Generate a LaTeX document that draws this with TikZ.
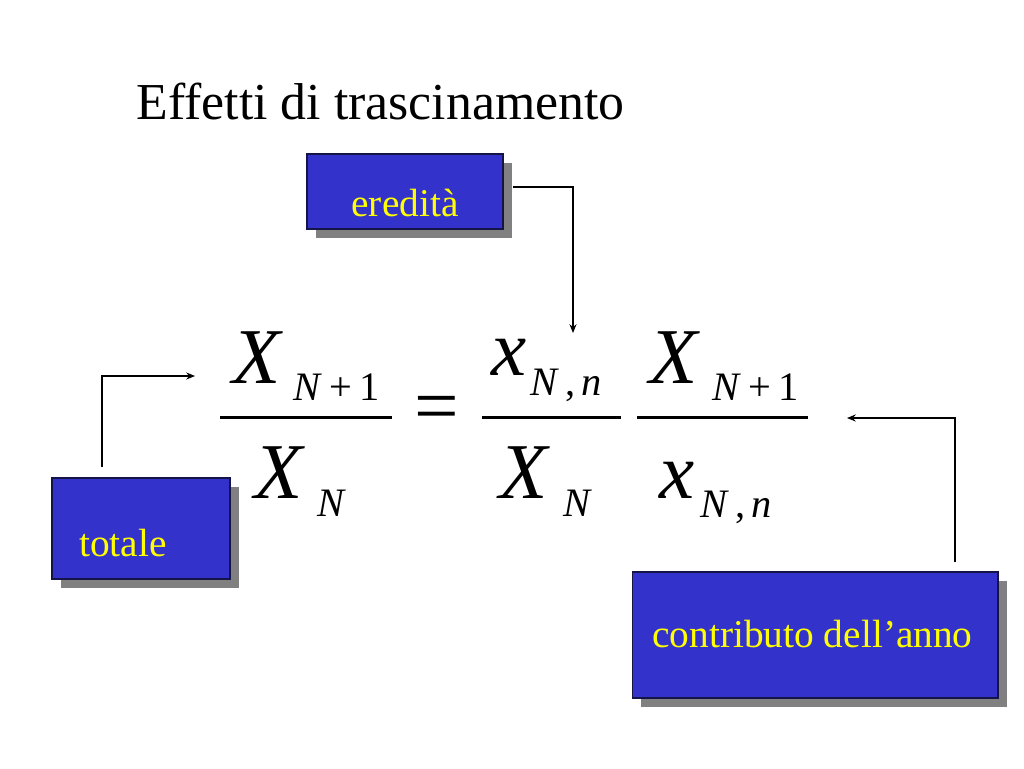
\documentclass[tikz,border=0pt]{standalone}
\usepackage{fontspec}
\setmainfont{Liberation Serif}
\usetikzlibrary{shadows,arrows.meta}
\definecolor{boxblue}{RGB}{51,51,204}
\definecolor{boxedge}{RGB}{20,20,70}
\definecolor{shadowgray}{RGB}{128,128,128}
\definecolor{labelyellow}{RGB}{255,255,0}

\begin{document}
\begin{tikzpicture}[x=0.02cm,y=-0.02cm,
    box/.style={draw=boxedge, fill=boxblue, line width=0.6pt, inner sep=0pt,
      general shadow={fill=shadowgray, shadow xshift=0.18cm, shadow yshift=-0.18cm}},
    lbl/.style={text=labelyellow, font=\fontsize{22.4}{26}\selectfont, inner sep=0pt},
    big/.style={font=\fontsize{45}{50}\selectfont\itshape, inner sep=0pt, anchor=base west},
    small/.style={font=\fontsize{23}{27}\selectfont\itshape, inner sep=0pt, anchor=base west},
    bar/.style={line width=1.7pt},
    conn/.style={line width=0.6pt, -{Stealth[length=5pt,width=4pt]}}]
  \path[fill=white, use as bounding box] (0,0) rectangle (1024,768);

  % title
  \node[font=\fontsize{29.5}{34}\selectfont, inner sep=0pt, anchor=base west] (title) at (136,119) {Effetti di trascinamento};

  % boxes
  \node[box, minimum width=3.92cm, minimum height=1.5cm] (ered) at (405,191.5) {};
  \node[lbl, anchor=base] (eredtxt) at (405,216) {eredità};
  \node[box, minimum width=3.56cm, minimum height=2.02cm] (tot) at (141,528.5) {};
  \node[lbl, anchor=base west] (tottxt) at (79,556) {totale};
  \node[box, minimum width=7.32cm, minimum height=2.52cm] (contr) at (815,635) {};
  \node[lbl, anchor=base west] (contrtxt) at (652,647) {contributo dell’anno};

  % equation
  \node[big] (n1X) at (232,383) {X};
  \node[small] (n1s) at (293,400) {N\hspace{5.5pt}{\upshape +\hspace{4pt}1}};
  \node[big] (d1X) at (254,498) {X};
  \node[small] (d1s) at (317,516) {N};
  \node[font=\fontsize{45}{50}\selectfont, inner sep=0pt] (eq) at (437,414) {=};
  \node[big] (n2x) at (491,375) {x};
  \node[small] (n2s) at (530,395) {N\hspace{4.5pt}{\upshape ,}\hspace{3.5pt}n};
  \node[big] (d2X) at (499,498) {X};
  \node[small] (d2s) at (563,516) {N};
  \node[big] (n3X) at (649,383) {X};
  \node[small] (n3s) at (712,400) {N\hspace{5.5pt}{\upshape +\hspace{4pt}1}};
  \node[big] (d3x) at (659,498) {x};
  \node[small] (d3s) at (700,517) {N\hspace{4.5pt}{\upshape ,}\hspace{3.5pt}n};
  \draw[bar] (220,417) -- (392,417);
  \draw[bar] (482,417) -- (621,417);
  \draw[bar] (637,417) -- (808,417);

  % connectors
  \coordinate (eredend) at (573,333);
  \coordinate (totend) at (195,376);
  \coordinate (contrend) at (847,418);
  \draw[conn] ([xshift=0.18cm,yshift=0.09cm]ered.east) -| (eredend);
  \draw[conn] ([xshift=-0.78cm,yshift=0.2cm]tot.north) |- (totend);
  \draw[conn] ([xshift=2.8cm,yshift=0.18cm]contr.north) |- (contrend);
\end{tikzpicture}
\end{document}
